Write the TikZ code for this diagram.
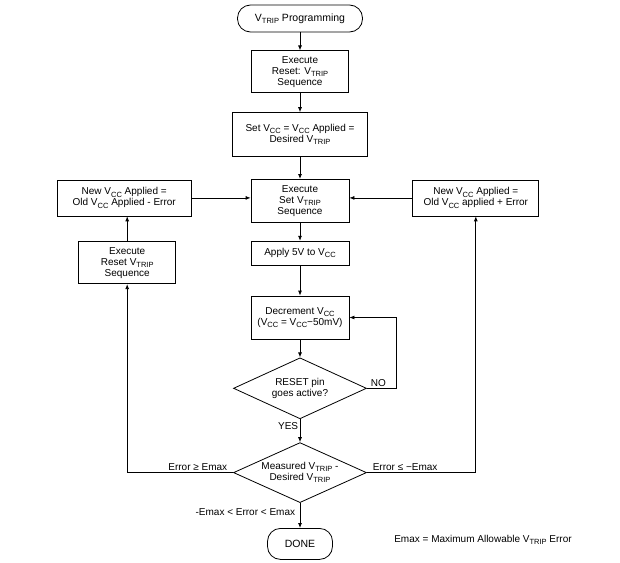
\documentclass[tikz,border=0pt]{standalone}
\usepackage{fontspec}
\setmainfont{Liberation Sans}
\usetikzlibrary{arrows.meta,positioning,shapes.geometric}
\newcommand{\subcap}[1]{\raisebox{-0.4ex}{\fontsize{7.5}{8}\selectfont #1}}
\newcommand{\Vcc}{V\subcap{CC}}
\newcommand{\Vtrip}{V\subcap{TRIP}}
\tikzset{
  box/.style={draw=black, align=center, inner sep=2pt, font=\fontsize{10}{11}\selectfont},
  termbox/.style={draw=black, rounded corners=13pt, align=center, inner sep=2pt, font=\fontsize{10.5}{12}\selectfont},
  decision/.style={draw=black, diamond, aspect=2.2, inner sep=0pt, align=center, font=\fontsize{10}{11}\selectfont},
  arrow/.style={-{Latex[length=5pt,width=4pt]}, line width=0.8pt},
  edgelabel/.style={font=\fontsize{10}{11}\selectfont, inner sep=1.5pt}
}
\begin{document}
\begin{tikzpicture}[x=1pt, y=1pt, line width=0.8pt]
\useasboundingbox (0,0) rectangle (620,-562);
\node[termbox, minimum width=125pt, minimum height=27pt] (start) at (300,-18.5) {\Vtrip\ Programming};
\node[box, below=18pt of start, minimum width=97pt, minimum height=42pt] (rstseq) {Execute\\Reset: \Vtrip\\Sequence};
\node[box, below=19pt of rstseq, minimum width=135pt, minimum height=44pt] (setvcc) {Set \Vcc\ = \Vcc\ Applied =\\Desired \Vtrip};
\node[box, below=22pt of setvcc, minimum width=98pt, minimum height=43pt] (setseq) {Execute\\Set \Vtrip\\Sequence};
\node[box, below=18pt of setseq, minimum width=98pt, minimum height=24pt] (apply) {Apply 5V to \Vcc};
\node[box, below=30pt of apply, minimum width=98pt, minimum height=43pt] (dec) {Decrement \Vcc\\(\Vcc\ = \Vcc{}−50mV)};
\node[decision, below=18pt of dec, minimum width=133pt, minimum height=61pt] (reset) {RESET pin\\goes active?};
\node[decision, below=23pt of reset, minimum width=133pt, minimum height=60pt] (measure) {Measured \Vtrip\ -\\Desired \Vtrip};
\node[termbox, below=25pt of measure, minimum width=65pt, minimum height=31pt] (done) {DONE};
\node[box, left=59pt of setseq, yshift=3pt, minimum width=134pt, minimum height=36pt] (newL) {New \Vcc\ Applied =\\Old \Vcc\ Applied - Error};
\node[box, below=25pt of newL, xshift=3pt, minimum width=97pt, minimum height=42pt] (rstL) {Execute\\Reset \Vtrip\\Sequence};
\node[box, right=63pt of setseq, yshift=3pt, minimum width=126pt, minimum height=36pt] (newR) {New \Vcc\ Applied =\\Old \Vcc\ applied + Error};
\node[edgelabel] (note) at (483,-540) {Emax = Maximum Allowable \Vtrip\ Error};
\draw[arrow] (start) -- (rstseq);
\draw[arrow] (rstseq) -- (setvcc);
\draw[arrow] (setvcc) -- (setseq);
\draw[arrow] (setseq) -- (apply);
\draw[arrow] (apply) -- (dec);
\draw[arrow] (dec) -- (reset);
\draw[arrow] (reset) -- node[edgelabel, left, pos=0.3] {YES} (measure);
\draw[arrow] (measure) -- node[edgelabel, left, xshift=-3pt, pos=0.35] {-Emax < Error < Emax} (done);
\draw[arrow] (reset.east) node[edgelabel, above right, xshift=2pt] {NO} -- ++(29,0) |- (dec.east);
\draw[arrow] (measure.west) node[edgelabel, above left, xshift=-4pt] {Error ≥ Emax} -| (rstL);
\draw[arrow] (measure.east) node[edgelabel, above right, xshift=4pt] {Error ≤ −Emax} -| (newR);
\draw[arrow] (rstL) -- (rstL |- newL.south);
\draw[arrow] (newL.east) -- (newL.east -| setseq.west);
\draw[arrow] (newR.west) -- (newR.west -| setseq.east);
\end{tikzpicture}
\end{document}
